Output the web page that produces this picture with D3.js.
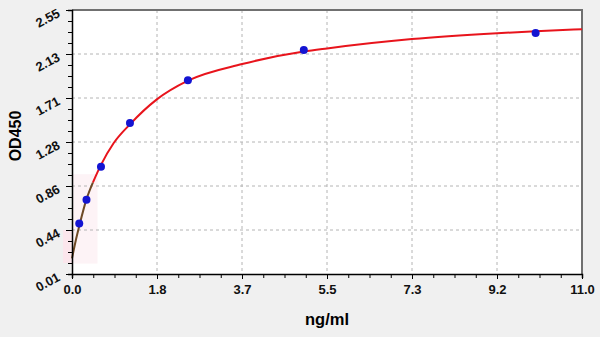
<!DOCTYPE html>
<html>
<head>
<meta charset="utf-8">
<script src="https://cdn.jsdelivr.net/npm/d3@7"></script>
<style>
  body { margin: 0; background: #f0f0f0; }
  svg text { font-family: "Liberation Sans", Arial, sans-serif; }
</style>
</head>
<body>
<div id="chart"></div>
<script>
// standards (measured points)
var concentrations = [0.156, 0.3125, 0.625, 1.25, 2.5, 5, 10];
var odValues = [0.495, 0.725, 1.042, 1.462, 1.875, 2.166, 2.329];

// fitted curve
var curveX = [0, 0.08, 0.156, 0.3125, 0.45, 0.625, 0.9, 1.25, 1.83, 2.5, 3.67, 5, 5.5, 7.33, 9.17, 10, 11];
var curveY = [0.16, 0.33, 0.47, 0.73, 0.89, 1.06, 1.27, 1.45, 1.69, 1.87, 2.03, 2.15, 2.18, 2.27, 2.326, 2.345, 2.365];

var xTickLabels = ['0.0', '1.8', '3.7', '5.5', '7.3', '9.2', '11.0'];
var yTickLabels = ['0.01', '0.44', '0.86', '1.28', '1.71', '2.13', '2.55'];

var margin = {top: 10, right: 18, bottom: 63, left: 72};
var width = 600, height = 337;
var w = width - margin.left - margin.right;
var h = height - margin.top - margin.bottom;

var svg = d3.select('#chart').append('svg')
  .style('display', 'block')
  .attr('width', width)
  .attr('height', height);

// faint pink haze near origin (behind axis)
svg.append('rect')
  .attr('x', 63).attr('y', 230)
  .attr('width', 12).attr('height', 33)
  .attr('fill', '#fbe6ec');

var chart = svg.append('g')
  .attr('transform', `translate(${margin.left}, ${margin.top})`);

var x = d3.scaleLinear().domain([0, 11]).range([0, w]);
var y = d3.scaleLinear().domain([0.01, 2.55]).range([h, 0]);

var xTicks = xTickLabels.map((d, i) => i * 11 / 6);
var yTicks = yTickLabels.map((d, i) => 0.01 + i * 2.54 / 6);
var xMinor = d3.range(0, 24).map(i => i * 11 / 24);
var yMinor = d3.range(0, 24).map(i => 0.01 + i * 2.54 / 24);

chart.append('rect')
  .attr('width', w)
  .attr('height', h)
  .attr('fill', '#fff');

chart.append('rect')
  .attr('x', 0).attr('y', y(0.97))
  .attr('width', x(0.55)).attr('height', y(0.11) - y(0.97))
  .attr('fill', '#fdf3f6');

// grid
chart.append('g').selectAll('line')
  .data(xTicks.slice(1, -1))
  .enter().append('line')
  .attr('x1', d => x(d)).attr('x2', d => x(d))
  .attr('y1', 0).attr('y2', h)
  .attr('stroke', '#b4b4b4')
  .attr('stroke-dasharray', '3,3');

chart.append('g').selectAll('line')
  .data(yTicks.slice(1, -1))
  .enter().append('line')
  .attr('y1', d => y(d)).attr('y2', d => y(d))
  .attr('x1', 0).attr('x2', w)
  .attr('stroke', '#b4b4b4')
  .attr('stroke-dasharray', '3,3');

// top / right frame
chart.append('path')
  .attr('d', `M0,0H${w}V${h}`)
  .attr('fill', 'none')
  .attr('stroke', '#707070')
  .attr('stroke-width', 2);

// curve
var pts = curveX.map((d, i) => [d, curveY[i]]);
var line = d3.line()
  .x(d => x(d[0]))
  .y(d => y(d[1]))
  .curve(d3.curveMonotoneX);

chart.append('path')
  .datum(pts.filter(d => d[0] >= 0.45))
  .attr('d', line)
  .attr('fill', 'none')
  .attr('stroke', '#e8141c')
  .attr('stroke-width', 2);

chart.append('path')
  .datum(pts.filter(d => d[0] <= 0.45))
  .attr('d', line)
  .attr('fill', 'none')
  .attr('stroke', '#6e4a26')
  .attr('stroke-width', 2);

// points
chart.append('g').selectAll('circle')
  .data(concentrations)
  .enter().append('circle')
  .attr('cx', d => x(d))
  .attr('cy', (d, i) => y(odValues[i]))
  .attr('r', 4)
  .attr('fill', '#1414d2');

// axes
var xAxis = chart.append('g')
  .attr('transform', `translate(0, ${h})`)
  .call(d3.axisBottom(x).tickValues(xMinor).tickSize(4).tickFormat(''));
xAxis.select('.domain').attr('stroke', '#000').attr('stroke-width', 1.5);

var xMajor = chart.append('g')
  .attr('transform', `translate(0, ${h})`)
  .call(d3.axisBottom(x).tickValues(xTicks).tickSize(5).tickPadding(6)
    .tickFormat((d, i) => xTickLabels[i]));
xMajor.select('.domain').remove();
xMajor.selectAll('text')
  .attr('font-size', 13)
  .attr('font-weight', 'bold')
  .attr('fill', '#111');

var yAxis = chart.append('g')
  .call(d3.axisLeft(y).tickValues(yMinor).tickSize(4).tickFormat(''));
yAxis.select('.domain').attr('stroke', '#000').attr('stroke-width', 1.5);

var yMajor = chart.append('g')
  .call(d3.axisLeft(y).tickValues(yTicks).tickSize(6).tickFormat(''));
yMajor.select('.domain').remove();

chart.append('g').selectAll('text')
  .data(yTicks)
  .enter().append('text')
  .attr('transform', d => `translate(-11, ${y(d) + 6}) rotate(-28)`)
  .attr('text-anchor', 'end')
  .attr('font-size', 13)
  .attr('font-weight', 'bold')
  .attr('fill', '#111')
  .text((d, i) => yTickLabels[i]);

// titles
svg.append('text')
  .attr('x', 327)
  .attr('y', 325)
  .attr('text-anchor', 'middle')
  .attr('font-size', 16.5)
  .attr('font-weight', 'bold')
  .text('ng/ml');

svg.append('text')
  .attr('transform', `translate(21, 136) rotate(-90)`)
  .attr('text-anchor', 'middle')
  .attr('font-size', 16)
  .attr('font-weight', 'bold')
  .text('OD450');
</script>
</body>
</html>
